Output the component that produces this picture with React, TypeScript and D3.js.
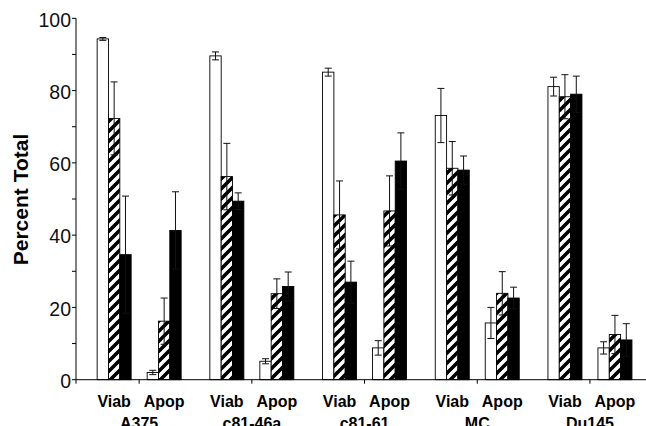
import * as d3 from 'd3';

const groups = ['A375', 'c81-46a', 'c81-61', 'MC', 'Du145'];
const measures = ['Viab', 'Apop'];
const series = ['open', 'hatched', 'solid'];

// ordered group by group: Viab, Apop
const openValues = [94.3, 2.0, 89.6, 5.1, 85.1, 8.8, 73.1, 15.7, 81.1, 8.8];
const openErrors = [0.4, 0.6, 1.1, 0.7, 1.1, 2.0, 7.5, 4.3, 2.6, 1.7];
const hatchedValues = [72.3, 16.2, 56.2, 23.8, 45.6, 46.7, 58.5, 23.9, 78.3, 12.5];
const hatchedErrors = [10.1, 6.4, 9.2, 4.1, 9.4, 9.7, 7.4, 6.0, 6.1, 5.3];
const solidValues = [34.6, 41.3, 49.4, 25.8, 27.0, 60.5, 58.0, 22.6, 79.0, 11.0];
const solidErrors = [16.2, 10.7, 2.3, 4.0, 5.8, 7.8, 3.9, 3.0, 5.0, 4.5];

const yTicks = [0, 20, 40, 60, 80, 100];
const yMinorTicks = [10, 30, 50, 70, 90];

const values = [openValues, hatchedValues, solidValues];
const errors = [openErrors, hatchedErrors, solidErrors];
const fills = ['#fff', 'url(#hatch)', '#000'];

export default function App() {
  const width = 646;
  const height = 426;
  const axisX = 76;
  const font = 'Liberation Sans, Arial, sans-serif';

  const x = d3.scaleBand().domain(groups).range([82.8, 646.3]);
  const xm = d3
    .scaleBand()
    .domain(measures)
    .range([0, x.bandwidth()])
    .paddingInner(0.32)
    .paddingOuter(0.287);
  const xs = d3.scaleBand().domain(series).range([0, xm.bandwidth()]);
  const y = d3.scaleLinear().domain([0, 100]).range([379.7, 18.3]);

  const rows = groups.flatMap((g, gi) =>
    measures.map((m, mi) => ({ g, m, idx: gi * 2 + mi }))
  );
  const capHalf = 3.5;

  return (
    <svg
      width={width}
      height={height}
      style={{ position: 'absolute', left: 0, top: 0, background: '#fff' }}
    >
      <defs>
        <pattern id="hatch" patternUnits="userSpaceOnUse" width={10} height={10}>
          <rect width={10} height={10} fill="#fff" />
          <path
            d="M-1,1 L1,-1 M0,10 L10,0 M9,11 L11,9"
            stroke="#000"
            strokeWidth={3.6}
          />
        </pattern>
      </defs>

      {/* bars */}
      {rows.map(r =>
        series.map((s, si) => {
          const v = values[si][r.idx];
          const bx = x(r.g)! + xm(r.m)! + xs(s)!;
          return (
            <rect
              key={`${r.idx}-${s}`}
              x={bx}
              y={y(v)}
              width={xs.bandwidth()}
              height={y(0) - y(v)}
              fill={fills[si]}
              stroke="#000"
              strokeWidth={0.9}
            />
          );
        })
      )}

      {/* error bars */}
      {rows.map(r =>
        series.map((s, si) => {
          const v = values[si][r.idx];
          const e = errors[si][r.idx];
          const cx = x(r.g)! + xm(r.m)! + xs(s)! + xs.bandwidth() / 2;
          const top = y(v + e);
          const bot = y(v - e);
          return (
            <g key={`e-${r.idx}-${s}`} stroke="#111" strokeWidth={1}>
              <line x1={cx} x2={cx} y1={top} y2={bot} />
              <line x1={cx - capHalf} x2={cx + capHalf} y1={top} y2={top} />
              <line x1={cx - capHalf} x2={cx + capHalf} y1={bot} y2={bot} />
            </g>
          );
        })
      )}

      {/* y axis */}
      <line x1={axisX} x2={axisX} y1={y(100)} y2={y(0)} stroke="#000" strokeWidth={1} />
      {[...yTicks, ...yMinorTicks].map(t => (
        <line key={`yt-${t}`} x1={axisX - 4} x2={axisX} y1={y(t)} y2={y(t)} stroke="#000" />
      ))}
      {yTicks.map(t => (
        <text
          key={`yl-${t}`}
          x={axisX - 5}
          y={y(t)}
          dy={8.3}
          textAnchor="end"
          fontFamily={font}
          fontSize={19.5}
          fill="#111"
        >
          {t}
        </text>
      ))}
      <text
        transform={`translate(27.5, 199.5) rotate(-90)`}
        textAnchor="middle"
        fontFamily={font}
        fontSize={21}
        fontWeight="bold"
        fill="#000"
      >
        Percent Total
      </text>

      {/* x axis */}
      <line x1={axisX} x2={width} y1={y(0)} y2={y(0)} stroke="#000" strokeWidth={1} />
      {[axisX, ...groups.map(g => x(g)! + x.bandwidth() / 2)].map((tx, i) => (
        <line key={`xt-${i}`} x1={tx} x2={tx} y1={y(0)} y2={y(0) + 4} stroke="#000" />
      ))}
      {rows.map(r => (
        <text
          key={`xl-${r.idx}`}
          x={x(r.g)! + xm(r.m)! + xm.bandwidth() / 2}
          y={407}
          textAnchor="middle"
          fontFamily={font}
          fontSize={16}
          fontWeight="bold"
          fill="#000"
        >
          {r.m}
        </text>
      ))}
      {groups.map(g => (
        <text
          key={`gl-${g}`}
          x={x(g)! + x.bandwidth() / 2}
          y={428.5}
          textAnchor="middle"
          fontFamily={font}
          fontSize={16}
          fontWeight="bold"
          fill="#000"
        >
          {g}
        </text>
      ))}
    </svg>
  );
}
